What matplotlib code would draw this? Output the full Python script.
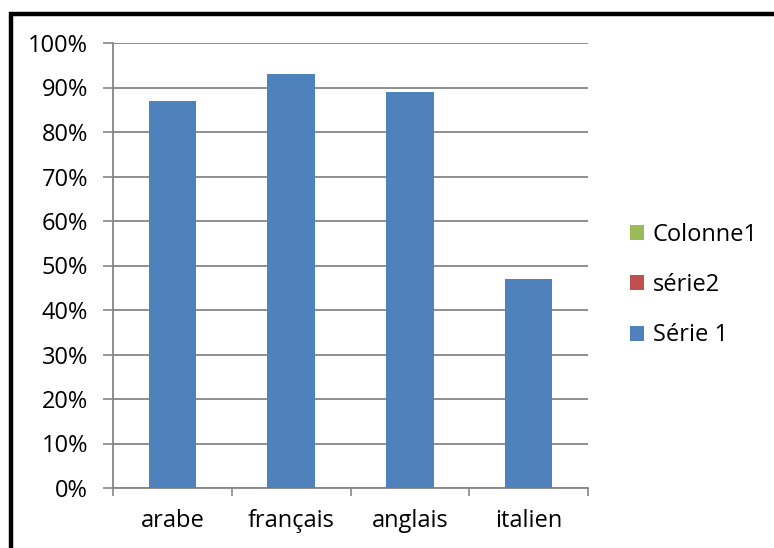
import matplotlib.pyplot as plt
from matplotlib.patches import Patch, Rectangle
from matplotlib.ticker import FixedLocator, PercentFormatter

categories = ["arabe", "français", "anglais", "italien"]
serie1 = [87, 93, 89, 47]
legend_labels = ["Colonne1", "série2", "Série 1"]
legend_colors = ["#9BBB59", "#C0504D", "#4F81BD"]

plt.rcParams["font.family"] = ["Open Sans", "DejaVu Sans"]
grid_col = "#868686"
fs = 17

fig = plt.figure(figsize=(7.74, 5.48), dpi=100)
ax = fig.add_axes([113 / 774, 1 - 488 / 548, 475 / 774, 445 / 548])

x = range(len(categories))
ax.bar(x, serie1, width=0.4, color="#4F81BD", zorder=3)

ax.set_xlim(-0.5, len(categories) - 0.5)
ax.set_ylim(0, 100)
ax.set_yticks(range(0, 101, 10))
ax.yaxis.set_major_formatter(PercentFormatter(decimals=0))
ax.set_xticks(list(x))
ax.set_xticklabels(categories)
ax.xaxis.set_minor_locator(FixedLocator([i - 0.5 for i in range(len(categories) + 1)]))

ax.tick_params(axis="x", which="major", length=0, pad=15, labelsize=fs)
ax.tick_params(axis="x", which="minor", length=6, width=1.2, color=grid_col)
ax.tick_params(axis="y", length=7, width=1.2, color=grid_col, labelsize=fs, pad=11)

ax.grid(axis="y", color=grid_col, linewidth=1.3, zorder=0)
ax.set_axisbelow(True)
for side in ("top", "right"):
    ax.spines[side].set_visible(False)
for side in ("left", "bottom"):
    ax.spines[side].set_color(grid_col)
    ax.spines[side].set_linewidth(1.3)

handles = [Patch(facecolor=c, edgecolor="none") for c in legend_colors]
fig.legend(handles, legend_labels, loc="center left",
           bbox_to_anchor=(609 / 774, 1 - 285 / 548), frameon=False,
           fontsize=fs, handlelength=0.6, handleheight=0.6,
           handletextpad=0.35, labelspacing=1.12)

# thick outer frame around the chart
fig.patches.append(Rectangle((11 / 774, -0.05), 1.1, 1.05 - 14 / 548,
                             transform=fig.transFigure, fill=False,
                             edgecolor="black", linewidth=3.2))

fig.savefig("out.png", dpi=100)
